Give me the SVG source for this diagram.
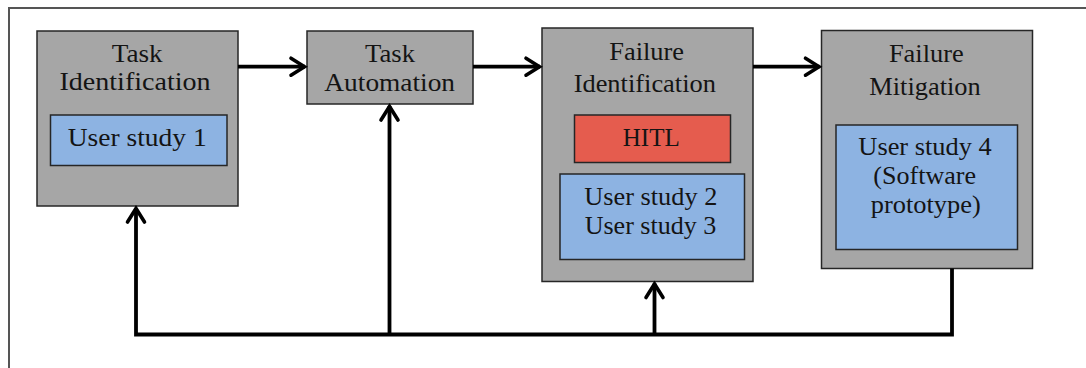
<svg xmlns="http://www.w3.org/2000/svg" width="1086" height="368" viewBox="0 0 1086 368">
<defs>
<marker id="arr" markerWidth="8" markerHeight="8" refX="6.5" refY="4" orient="auto" markerUnits="userSpaceOnUse" viewBox="0 0 8 8" overflow="visible">
<path d="M-7.5,-4.5 L6,4 L-7.5,12.5" fill="none" stroke="#000" stroke-width="3.6" stroke-linecap="round" stroke-linejoin="miter"/>
</marker>
<style>
.box{fill:#a6a6a6;stroke:#262626;stroke-width:1.5}
.blue{fill:#8db3e2;stroke:#262626;stroke-width:1.5}
.red{fill:#e55c4e;stroke:#262626;stroke-width:1.5}
text{font-family:"Liberation Serif","Times New Roman",serif;font-size:26px;fill:#141414;text-anchor:middle}
.c{fill:none;stroke:#000;stroke-width:3.8}
</style>
</defs>
<rect width="1086" height="368" fill="#fff"/>
<path d="M9,368 V8 H1086" fill="none" stroke="#555" stroke-width="2"/>
<g id="task-identification">
<rect class="box" x="37" y="31" width="201" height="175"/>
<text x="137.2" y="62" textLength="51" lengthAdjust="spacingAndGlyphs">Task</text>
<text x="135" y="90" textLength="151" lengthAdjust="spacingAndGlyphs">Identification</text>
<rect class="blue" x="50.5" y="115" width="176.5" height="50.5"/>
<text x="137.2" y="146" textLength="139" lengthAdjust="spacingAndGlyphs">User study 1</text>
</g>
<g id="task-automation">
<rect class="box" x="307" y="31" width="166" height="73"/>
<text x="390" y="62" textLength="50" lengthAdjust="spacingAndGlyphs">Task</text>
<text x="389.7" y="90.5" textLength="130.7" lengthAdjust="spacingAndGlyphs">Automation</text>
</g>
<g id="failure-identification">
<rect class="box" x="542" y="28" width="211" height="253.5"/>
<text x="646.7" y="59.5" textLength="74.7" lengthAdjust="spacingAndGlyphs">Failure</text>
<text x="644.8" y="91.5" textLength="142.3" lengthAdjust="spacingAndGlyphs">Identification</text>
<rect class="red" x="574.5" y="115" width="156" height="47.5"/>
<text x="651.3" y="146" textLength="57" lengthAdjust="spacingAndGlyphs">HITL</text>
<rect class="blue" x="560" y="174" width="184.5" height="85.5"/>
<text x="650.8" y="205" textLength="133" lengthAdjust="spacingAndGlyphs">User study 2</text>
<text x="650.5" y="233.5" textLength="131.7" lengthAdjust="spacingAndGlyphs">User study 3</text>
</g>
<g id="failure-mitigation">
<rect class="box" x="821.5" y="30.5" width="211" height="238"/>
<text x="926.3" y="62" textLength="74.7" lengthAdjust="spacingAndGlyphs">Failure</text>
<text x="925" y="94.5" textLength="111.3" lengthAdjust="spacingAndGlyphs">Mitigation</text>
<rect class="blue" x="836" y="125" width="181.5" height="124.5"/>
<text x="925" y="155" textLength="133.3" lengthAdjust="spacingAndGlyphs">User study 4</text>
<text x="924.7" y="184" textLength="102.7" lengthAdjust="spacingAndGlyphs">(Software</text>
<text x="925.7" y="213" textLength="110" lengthAdjust="spacingAndGlyphs">prototype)</text>
</g>
<g id="connectors">
<line class="c" x1="238" y1="66.7" x2="305" y2="66.7" marker-end="url(#arr)"/>
<line class="c" x1="473" y1="66.7" x2="540" y2="66.7" marker-end="url(#arr)"/>
<line class="c" x1="753" y1="66.7" x2="819.5" y2="66.7" marker-end="url(#arr)"/>
<path class="c" d="M952,268.5 V334.5 H136 V208" fill="none" marker-end="url(#arr)"/>
<line class="c" x1="389.5" y1="334.5" x2="389.5" y2="106" marker-end="url(#arr)"/>
<line class="c" x1="654.5" y1="334.5" x2="654.5" y2="283.5" marker-end="url(#arr)"/>
</g>
</svg>
